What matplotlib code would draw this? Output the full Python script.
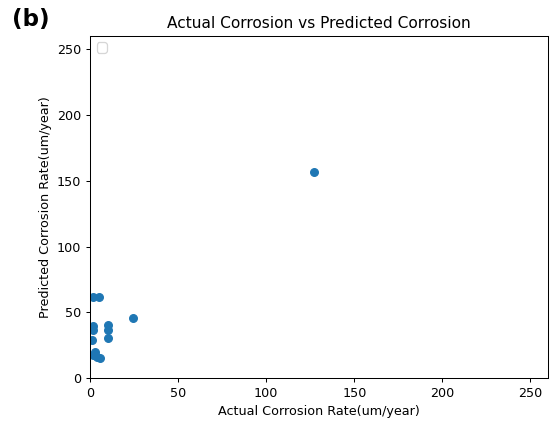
import numpy as np
import matplotlib.pyplot as plt

# actual vs predicted corrosion rates (um/year)
actual = [1.5, 5.1, 24.5, 1.9, 10.4, 10.4, 10.4, 1.5, 1.0, 2.8, 3.8, 5.7, 1.9, 127.0]
predicted = [61.8, 61.8, 45.4, 39.7, 40.3, 36.5, 30.2, 36.5, 28.9, 20.0, 16.2, 15.0, 17.5, 156.5]

fig = plt.figure(figsize=(6.0, 4.59), dpi=553 / 6.0)
ax = fig.add_axes([0.163, 0.106, 0.828, 0.809])

ax.scatter(actual, predicted)
ax.set_xlim(0, 260)
ax.set_ylim(0, 260)
ax.set_xlabel('Actual Corrosion Rate(um/year)')
ax.set_ylabel('Predicted Corrosion Rate(um/year)')
ax.set_title('Actual Corrosion vs Predicted Corrosion')
ax.legend(loc='upper left')

fig.text(0.022, 0.955, '(b)', fontsize=18, fontweight='bold', va='center')

fig.savefig('out.png', dpi=553 / 6.0)
